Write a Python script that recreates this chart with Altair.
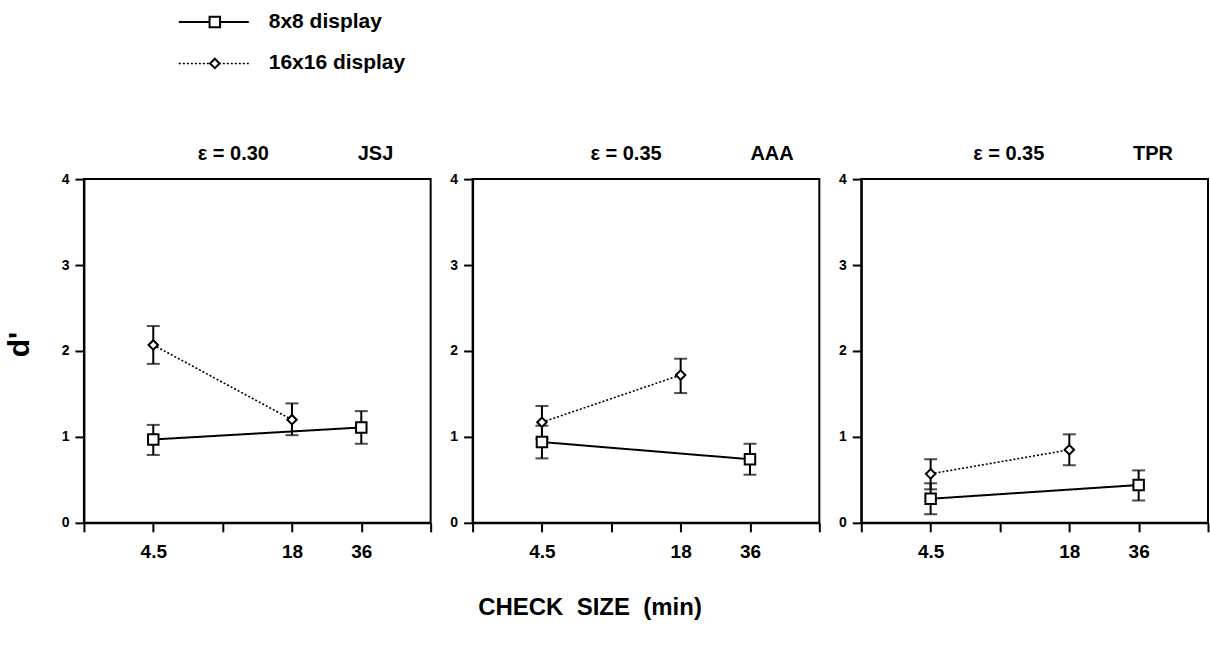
import altair as alt
import pandas as pd

# ---------------- data ----------------
subjects = ["JSJ", "AAA", "TPR"]
eps_labels = ["ε = 0.30", "ε = 0.35", "ε = 0.35"]
displays = ["8x8 display", "16x16 display"]

sizes_8x8 = [4.5, 36]
sizes_16x16 = [4.5, 18]

jsj_8x8 = [0.97, 1.11]
jsj_8x8_lo = [0.79, 0.92]
jsj_8x8_hi = [1.14, 1.30]
jsj_16x16 = [2.07, 1.20]
jsj_16x16_lo = [1.85, 1.02]
jsj_16x16_hi = [2.29, 1.39]

aaa_8x8 = [0.94, 0.74]
aaa_8x8_lo = [0.75, 0.56]
aaa_8x8_hi = [1.13, 0.92]
aaa_16x16 = [1.17, 1.72]
aaa_16x16_lo = [0.98, 1.51]
aaa_16x16_hi = [1.36, 1.91]

tpr_8x8 = [0.28, 0.44]
tpr_8x8_lo = [0.10, 0.26]
tpr_8x8_hi = [0.46, 0.61]
tpr_16x16 = [0.57, 0.85]
tpr_16x16_lo = [0.39, 0.67]
tpr_16x16_hi = [0.74, 1.03]

x_tick_values = [2.25, 4.5, 9, 18, 36, 72]
x_tick_labels = ["", "4.5", "", "18", "36", ""]
y_tick_values = [0, 1, 2, 3, 4]

series = {
    "JSJ": [(jsj_8x8, jsj_8x8_lo, jsj_8x8_hi), (jsj_16x16, jsj_16x16_lo, jsj_16x16_hi)],
    "AAA": [(aaa_8x8, aaa_8x8_lo, aaa_8x8_hi), (aaa_16x16, aaa_16x16_lo, aaa_16x16_hi)],
    "TPR": [(tpr_8x8, tpr_8x8_lo, tpr_8x8_hi), (tpr_16x16, tpr_16x16_lo, tpr_16x16_hi)],
}
sizes = [sizes_8x8, sizes_16x16]

rows = []
for subj in subjects:
    for k, disp in enumerate(displays):
        vals, lo, hi = series[subj][k]
        for s, v, l, h in zip(sizes[k], vals, lo, hi):
            rows.append({"subject": subj, "display": disp, "size": s, "d": v, "lo": l, "hi": h})
data = pd.DataFrame(rows)

FONT = "Liberation Sans"
PANEL_W = 347
PANEL_H = 344
NBSP = "\u00a0"

label_expr = "[" + ",".join("'%s'" % t for t in x_tick_labels) + "][indexof([" + \
    ",".join(str(v) for v in x_tick_values) + "], datum.value)]"

dash_scale = alt.Scale(domain=displays, range=[[1, 0], [2, 2]])
width_scale = alt.Scale(domain=displays, range=[2, 1.6])
shape_scale = alt.Scale(domain=displays, range=["square", "diamond"])
size_scale = alt.Scale(domain=displays, range=[144, 121])

title_dx = [114, 118, 112]


def panel(i, subj):
    df = data[data["subject"] == subj]
    x_axis_kwargs = dict(values=x_tick_values, labelExpr=label_expr, labelOverlap=False, labelFlush=False)
    if i == 1:
        x_axis = alt.Axis(title="CHECK" + NBSP * 2 + "SIZE" + NBSP * 2 + "(min)", titleX=117, titleY=85,
                          titleAlign="center", titleBaseline="middle", titleFontSize=24,
                          titleFontWeight="bold", titleFont=FONT, titleColor="black", **x_axis_kwargs)
    else:
        x_axis = alt.Axis(title=None, **x_axis_kwargs)
    y_axis_kwargs = dict(values=y_tick_values, format="d")
    if i == 0:
        y_axis = alt.Axis(title="d'", titleX=-64, titleY=165, titleAngle=270,
                          titleAlign="center", titleBaseline="middle", titleFontSize=30,
                          titleFontWeight="bold", titleFont=FONT, titleColor="black", **y_axis_kwargs)
    else:
        y_axis = alt.Axis(title=None, **y_axis_kwargs)

    x = alt.X("size:Q", scale=alt.Scale(type="log", base=2, domain=[2.25, 72], nice=False), axis=x_axis)
    y = alt.Y("d:Q", scale=alt.Scale(domain=[0, 4], nice=False), axis=y_axis)
    base = alt.Chart(df)

    lines = base.mark_line(color="black").encode(
        x=x, y=y, detail="display:N",
        strokeDash=alt.StrokeDash("display:N", scale=dash_scale, legend=None),
        strokeWidth=alt.StrokeWidth("display:N", scale=width_scale, legend=None),
    )
    bars = base.mark_rule(color="black", strokeWidth=2).encode(x="size:Q", y="lo:Q", y2="hi:Q")
    cap_lo = base.mark_tick(color="black", orient="horizontal", size=13, thickness=2).encode(x="size:Q", y="lo:Q")
    cap_hi = base.mark_tick(color="black", orient="horizontal", size=13, thickness=2).encode(x="size:Q", y="hi:Q")
    pts = base.mark_point(filled=True, fill="white", stroke="black", strokeWidth=2, opacity=1).encode(
        x="size:Q", y="d:Q",
        shape=alt.Shape("display:N", scale=shape_scale, legend=None),
        size=alt.Size("display:N", scale=size_scale, legend=None),
    )
    title = alt.TitleParams(
        text=eps_labels[i] + NBSP * 16 + subj, anchor="start", frame="group", dx=title_dx[i],
        fontSize=20, fontWeight="bold", font=FONT, color="black", baseline="alphabetic", offset=-8,
    )
    return alt.layer(lines, bars, cap_lo, cap_hi, pts).properties(
        width=PANEL_W, height=PANEL_H, title=title,
        view=alt.ViewBackground(stroke="black", strokeWidth=2),
    )


# ---------------- legend ----------------
legend_df = pd.DataFrame({"display": displays})
ly = alt.Y("display:N", sort=displays, scale=alt.Scale(type="point", padding=0.5), axis=None)
lbase = alt.Chart(legend_df)
leg_line = lbase.mark_rule(color="black").encode(
    x=alt.value(95), x2=alt.value(165), y=ly,
    strokeDash=alt.StrokeDash("display:N", scale=dash_scale, legend=None),
    strokeWidth=alt.StrokeWidth("display:N", scale=width_scale, legend=None),
)
leg_pt = lbase.mark_point(filled=True, fill="white", stroke="black", strokeWidth=2, opacity=1).encode(
    x=alt.value(131), y=ly,
    shape=alt.Shape("display:N", scale=shape_scale, legend=None),
    size=alt.Size("display:N", scale=alt.Scale(domain=displays, range=[110, 90]), legend=None),
)
leg_txt = lbase.mark_text(align="left", baseline="middle", fontSize=21, fontWeight="bold", font=FONT,
                          color="black").encode(x=alt.value(185), y=ly, text="display:N")
legend = alt.layer(leg_line, leg_pt, leg_txt).properties(
    width=PANEL_W, height=83, view=alt.ViewBackground(stroke="transparent")
)

panels = alt.hconcat(*[panel(i, s) for i, s in enumerate(subjects)], spacing=42, bounds="flush")

chart = alt.vconcat(legend, panels, spacing=95, bounds="flush").properties(
    padding={"left": 4, "top": 0, "right": 0, "bottom": 4},
    background="white",
).configure_axisX(
    labelFontSize=19, labelFontWeight="bold", labelFont=FONT, labelColor="black", labelPadding=11,
    tickSize=9, tickWidth=2, tickColor="black", domainWidth=2, domainColor="black", grid=False,
).configure_axisY(
    labelFontSize=14, labelFontWeight="bold", labelFont=FONT, labelColor="black", labelPadding=6,
    tickSize=9, tickWidth=2, tickColor="black", domainWidth=2, domainColor="black", grid=False,
)

chart.save("out.html", embed_options={"renderer": "svg", "actions": False})
